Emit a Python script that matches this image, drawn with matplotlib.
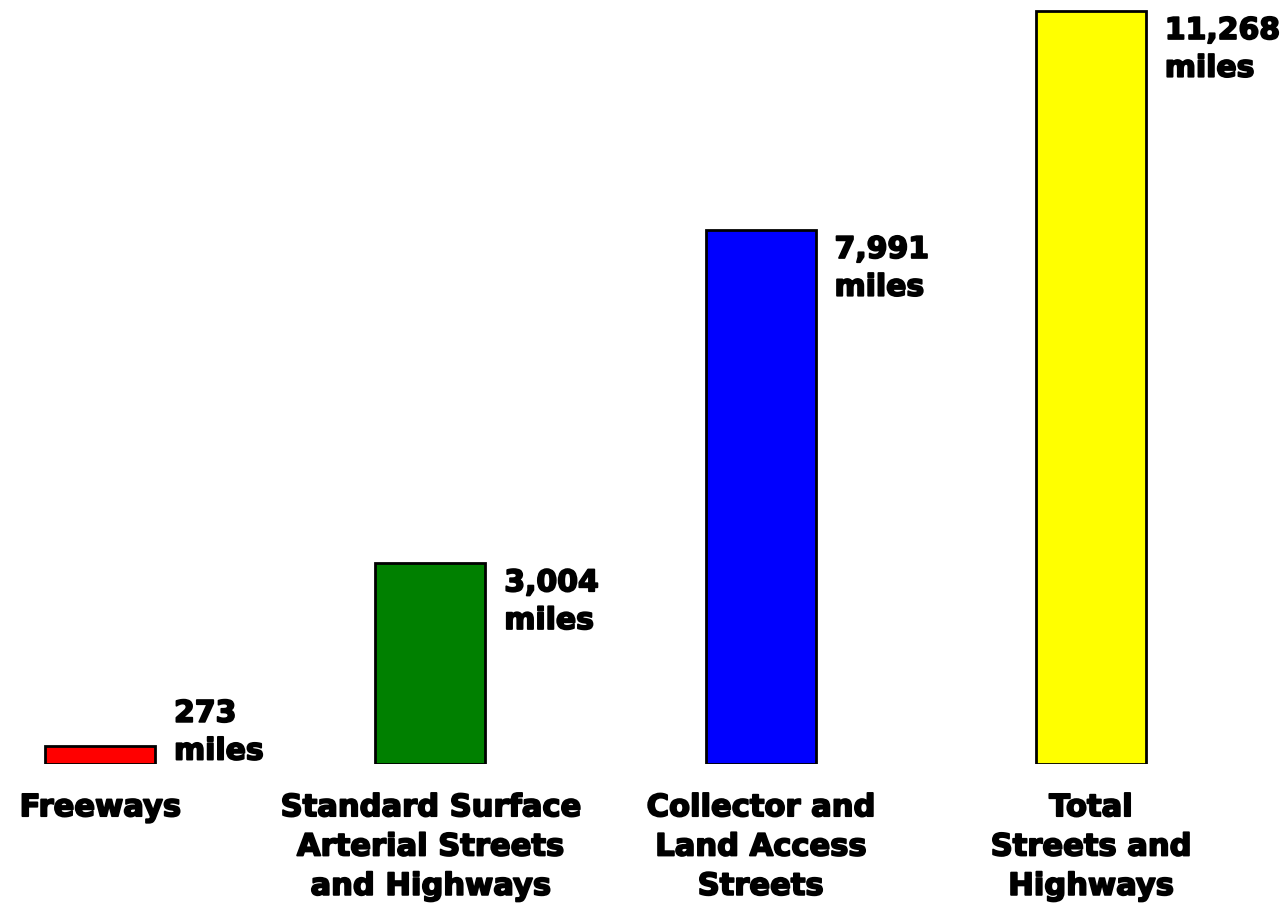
import matplotlib
matplotlib.use("Agg")
import matplotlib.pyplot as plt
import matplotlib.patheffects as pe

categories = ["Freeways", "Standard Surface\nArterial Streets\nand Highways",
              "Collector and\nLand Access\nStreets", "Total\nStreets and\nHighways"]
miles = [273, 3004, 7991, 11268]
colors = ["#FF0000", "#008000", "#0000FF", "#FFFF00"]

plt.rcParams['font.family'] = ['DejaVu Sans']
W, H = 1287, 904
fig = plt.figure(figsize=(W / 100, H / 100), dpi=100)
ax = fig.add_axes([0, 139 / H, 1, 1 - 139 / H])

heavy = [pe.withStroke(linewidth=1.3, foreground="black")]

x = list(range(len(miles)))
ax.bar(x, miles, width=0.333, color=colors, edgecolor="black", linewidth=2, zorder=2)
ax.set_xlim(-0.303, 3.594)
ax.set_ylim(0, 11447)

for xi, v in zip(x, miles):
    ytxt = max(v, 1050)
    ax.annotate(f"{v:,}\nmiles", xy=(xi + 0.1665, ytxt), xytext=(19, -5),
                textcoords="offset pixels", ha="left", va="top",
                fontsize=21.5, fontweight="bold", linespacing=1.38,
                path_effects=heavy)

ax.set_xticks(x)
ax.set_xticklabels(categories, fontsize=22, fontweight="bold", linespacing=1.45)
for t in ax.get_xticklabels():
    t.set_path_effects(heavy)
ax.tick_params(axis="x", length=0, pad=21)
ax.set_yticks([])
for s in ax.spines.values():
    s.set_visible(False)

fig.savefig("out.png", dpi=100)
